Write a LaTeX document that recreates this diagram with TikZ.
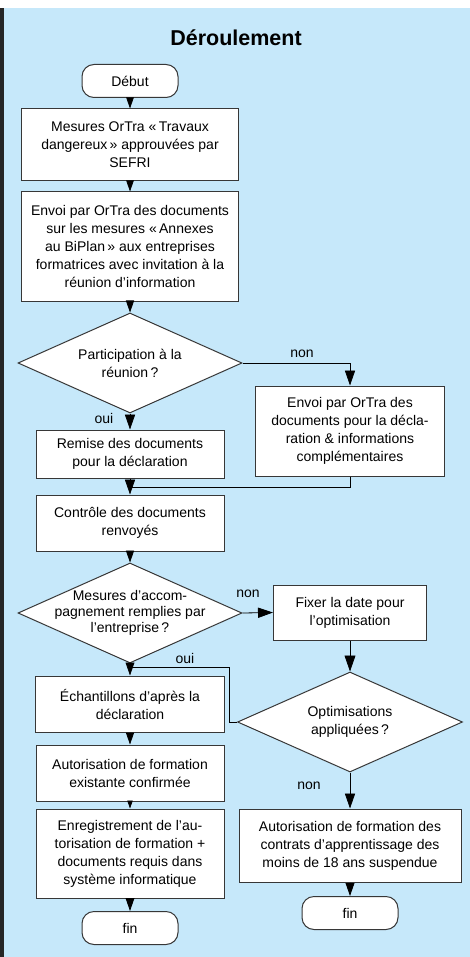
\documentclass[tikz,border=0pt]{standalone}
\usepackage{fontspec}
\setmainfont{Liberation Sans}
\usepackage{tikz}
\usetikzlibrary{shapes.geometric, arrows.meta, positioning}
\definecolor{bgblue}{RGB}{198,232,250}
\definecolor{boxline}{RGB}{55,55,55}
\tikzstyle{process} = [rectangle, draw=boxline, fill=white, line width=1pt, align=center, inner sep=2pt]
\tikzstyle{terminal} = [rectangle, rounded corners=12pt, draw=boxline, fill=white, line width=1pt,
                    minimum width=96pt, minimum height=33pt]
\tikzstyle{decision} = [diamond, draw=boxline, fill=white, line width=1pt, inner sep=0pt,
                    minimum width=224pt, minimum height=100pt]
\tikzset{flow/.style={draw=black, line width=0.8pt, -{Triangle[length=#1, width'=0pt 0.68]}},
         flow/.default=11pt}
\tikzstyle{link} = [draw=black, line width=0.8pt]

\begin{document}
\begin{tikzpicture}[x=1pt, y=-1pt, font=\fontsize{14}{18}\selectfont]
				\fill[white] (0, 0) rectangle (470, 957);
				\fill[bgblue] (0, 8) rectangle (470, 957);
				\fill[black!85] (0, 8) rectangle (4, 957);
				\useasboundingbox (0, 0) rectangle (470, 957);

				\node (Title) at (236, 38) {\fontsize{21.5}{24}\selectfont\bfseries Déroulement};

				\node (Start) [terminal] at (130, 81) {Début};
				\node (Approve) [process, minimum width=217pt, minimum height=72pt] at (130, 145)
					{Mesures OrTra «\,Travaux\\dangereux\,» approuvées par\\SEFRI};
				\draw [flow] (Start) -- (Approve);

				\node (Send) [process, minimum width=217pt, minimum height=109pt] at (130, 246.5)
					{Envoi par OrTra des documents\\sur les mesures «\,Annexes\\au BiPlan\,» aux entreprises\\formatrices avec invitation à la\\réunion d’information};
				\draw [flow] (Approve) -- (Send);

				% participation
				\node (Meeting) [decision] at (130, 363) {};
				\node (MeetingText) [align=center] at (Meeting) {Participation à la\\réunion\,?};
				\draw [flow=12pt] (Send) -- (Meeting);

				\node (Mail) [process, minimum width=189pt, minimum height=90pt] at (350, 431)
					{Envoi par OrTra des\\documents pour la décla-\\ration \& informations\\complémentaires};
				\draw [flow=15pt] (Meeting.east) -| (Mail.north);
				\node (NoMeeting) at (302, 354) {non};

				\node (Hand) [process, minimum width=188pt, minimum height=48pt] at (130, 454)
					{Remise des documents\\pour la déclaration};
				\draw [flow=15pt] (Meeting) -- (Hand);
				\node (YesMeeting) at (104, 418) {oui};

				\node (Check) [process, minimum width=188pt, minimum height=56pt] at (130, 523)
					{Contrôle des documents\\renvoyés};
				\coordinate (Merge) at (130, 487);
				\draw [link] (Mail.south) |- (Merge);
				\draw [flow=15pt] (Hand) -- (Check);

				% accompanying measures
				\node (Measures) [decision] at (130, 613) {};
				\node (MeasuresText) [align=center, font=\fontsize{14}{16.3}\selectfont] at (Measures)
					{Mesures d’accom-\\pagnement remplies par\\l’entreprise\,?};
				\draw [flow=12pt] (Check) -- (Measures);

				\node (Date) [process, minimum width=153pt, minimum height=55pt] at (350, 612.5)
					{Fixer la date pour\\l’optimisation};
				\draw [flow=15pt] (Measures.east) -- (Date.west);
				\node (NoMeasures) at (248, 594) {non};

				\node (Applied) [decision, minimum width=225pt] at (350, 722) {};
				\node (AppliedText) [align=center] at (Applied) {Optimisations\\appliquées\,?};
				\draw [flow=16pt] (Date) -- (Applied);

				\node (Samples) [process, minimum width=189pt, minimum height=56pt] at (130, 704)
					{Échantillons d’après la\\déclaration};
				\draw [flow=13pt] (Measures) -- (Samples);
				\coordinate (AppliedTurn) at (229, 667);
				\draw [link] (Applied.west) -| (AppliedTurn) -- (AppliedTurn -| Samples.north);
				\node (YesApplied) at (185, 658) {oui};

				\node (Confirmed) [process, minimum width=188pt, minimum height=56pt] at (130, 773)
					{Autorisation de formation\\existante confirmée};
				\draw [flow=12pt] (Samples) -- (Confirmed);

				\node (Record) [process, minimum width=188pt, minimum height=89pt] at (130, 853.5)
					{Enregistrement de l’au-\\torisation de formation +\\documents requis dans\\système informatique};
				\draw [flow=8pt] (Confirmed) -- (Record);

				\node (End) [terminal] at (130, 928) {fin};
				\draw [flow=13pt] (Record) -- (End);

				% suspended
				\node (Suspended) [process, minimum width=222pt, minimum height=73pt] at (350, 845.5)
					{Autorisation de formation des\\contrats d’apprentissage des\\moins de 18 ans suspendue};
				\draw [flow=15pt] (Applied) -- (Suspended);
				\node (NoApplied) at (309, 786) {non};

				\node (EndSuspended) [terminal] at (350, 913) {fin};
				\draw [flow=13pt] (Suspended) -- (EndSuspended);
\end{tikzpicture}
\end{document}
